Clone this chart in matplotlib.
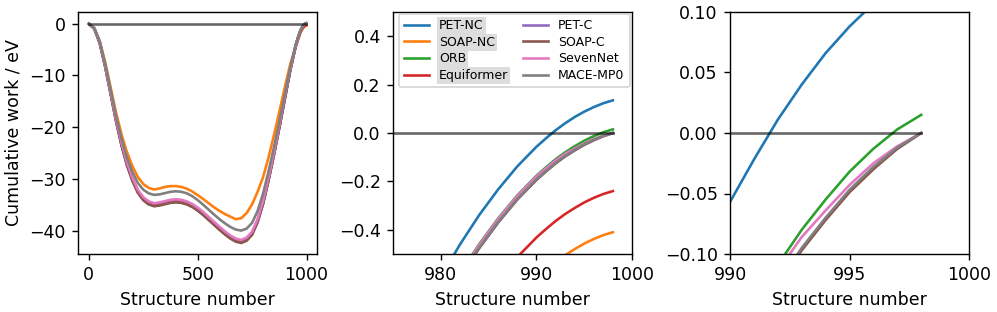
import matplotlib
matplotlib.use("Agg")
import matplotlib.pyplot as plt

# structure numbers (coarse over the whole path, fine near the end)
structure = [0, 25, 50, 75, 100, 125, 150, 175, 200, 225, 250, 275, 300, 325,
             350, 375, 400, 425, 450, 475, 500, 525, 550, 575, 600, 625, 650,
             675, 700, 725, 750, 775, 800, 825, 850, 875, 900, 925, 950,
             960, 970, 975, 980, 982, 984, 986, 988, 990, 991, 992, 993, 994,
             995, 996, 997, 998]

pet_nc = [0, -0.96, -3.73, -8.24, -13.46, -18.77, -23.39, -27.2, -30.2, -32.5,
          -33.95, -34.75, -35.1, -34.95, -34.7, -34.45, -34.35, -34.45, -34.75,
          -35.25, -35.95, -36.8, -37.75, -38.7, -39.65, -40.55, -41.35, -41.95,
          -42.2, -41.75, -40.6, -38.2, -34.7, -30.2, -25.25, -19.95, -14.45,
          -8.96, -4.15,
          -2.685, -1.465, -0.985, -0.595, -0.461, -0.340, -0.233, -0.138, -0.057,
          -0.022, 0.011, 0.040, 0.066, 0.088, 0.107, 0.123, 0.135]

soap_nc = [0, -0.85, -3.35, -7.45, -12.3, -17.2, -21.4, -24.85, -27.55, -29.65,
           -31.0, -31.75, -32.05, -31.85, -31.55, -31.4, -31.4, -31.55, -31.9,
           -32.45, -33.15, -33.9, -34.7, -35.5, -36.2, -36.8, -37.3, -37.8,
           -37.6, -36.6, -34.9, -32.5, -29.7, -25.9, -21.6, -17.0, -12.3, -7.8,
           -4.5,
           -3.23, -2.01, -1.53, -1.14, -1.006, -0.885, -0.778, -0.683, -0.602,
           -0.567, -0.534, -0.505, -0.480, -0.457, -0.438, -0.422, -0.41]

orb = [0, -0.95, -3.7, -8.2, -13.4, -18.7, -23.3, -27.1, -30.1, -32.4, -33.85,
       -34.65, -35.0, -34.85, -34.6, -34.35, -34.25, -34.35, -34.65, -35.15,
       -35.85, -36.7, -37.65, -38.6, -39.55, -40.45, -41.25, -41.85, -42.1,
       -41.65, -40.5, -38.1, -34.6, -30.1, -25.15, -19.85, -14.35, -8.9, -4.25,
       -2.805, -1.585, -1.105, -0.715, -0.581, -0.46, -0.353, -0.258, -0.177,
       -0.142, -0.109, -0.080, -0.055, -0.032, -0.013, 0.003, 0.015]

equiformer = [0, -0.94, -3.68, -8.16, -13.35, -18.63, -23.22, -27.0, -30.0,
              -32.3, -33.75, -34.55, -34.9, -34.75, -34.5, -34.25, -34.15, -34.25,
              -34.55, -35.05, -35.75, -36.6, -37.55, -38.5, -39.45, -40.35,
              -41.15, -41.75, -42.0, -41.55, -40.4, -38.0, -34.5, -30.0, -25.05,
              -19.75, -14.25, -8.95, -4.4,
              -3.06, -1.84, -1.36, -0.97, -0.836, -0.715, -0.608, -0.513, -0.432,
              -0.397, -0.364, -0.335, -0.310, -0.287, -0.268, -0.252, -0.24]

pet_c = [0, -0.97, -3.75, -8.28, -13.51, -18.84, -23.47, -27.3, -30.3, -32.6,
         -34.05, -34.85, -35.2, -35.05, -34.8, -34.55, -34.45, -34.55, -34.85,
         -35.35, -36.05, -36.9, -37.85, -38.8, -39.75, -40.65, -41.45, -42.05,
         -42.3, -41.85, -40.7, -38.3, -34.8, -30.3, -25.35, -20.05, -14.55,
         -9.02, -4.31,
         -2.821, -1.601, -1.121, -0.731, -0.597, -0.476, -0.369, -0.274, -0.193,
         -0.158, -0.125, -0.096, -0.071, -0.048, -0.029, -0.013, 0.0]

soap_c = [0, -0.98, -3.78, -8.32, -13.57, -18.91, -23.56, -27.4, -30.4, -32.7,
          -34.15, -34.95, -35.3, -35.15, -34.9, -34.65, -34.55, -34.65, -34.95,
          -35.45, -36.15, -37.0, -37.95, -38.9, -39.85, -40.75, -41.55, -42.15,
          -42.4, -41.95, -40.8, -38.4, -34.9, -30.4, -25.45, -20.15, -14.65,
          -9.08, -4.34,
          -2.822, -1.602, -1.122, -0.732, -0.598, -0.477, -0.370, -0.275, -0.194,
          -0.159, -0.126, -0.097, -0.072, -0.049, -0.030, -0.013, 0.0]

sevennet = [0, -0.92, -3.63, -8.08, -13.24, -18.5, -23.05, -26.8, -29.8, -32.1,
            -33.55, -34.35, -34.7, -34.55, -34.3, -34.05, -33.95, -34.05,
            -34.35, -34.85, -35.55, -36.4, -37.35, -38.3, -39.25, -40.15,
            -40.95, -41.55, -41.8, -41.35, -40.2, -37.8, -34.3, -29.8, -24.85,
            -19.55, -14.05, -8.72, -4.16,
            -2.805, -1.59, -1.108, -0.718, -0.584, -0.463, -0.356, -0.261,
            -0.180, -0.146, -0.114, -0.086, -0.064, -0.043, -0.025, -0.011, 0.0]

mace_mp0 = [0, -0.9, -3.5, -7.8, -12.8, -17.9, -22.3, -25.9, -28.7, -30.8,
            -32.1, -32.8, -33.1, -33.0, -32.75, -32.5, -32.4, -32.5, -32.8,
            -33.35, -34.1, -35.0, -35.95, -36.9, -37.8, -38.6, -39.3, -39.8,
            -40.0, -39.6, -38.5, -36.2, -32.9, -28.6, -23.9, -18.9, -13.7, -8.5,
            -4.05,
            -2.82, -1.60, -1.12, -0.73, -0.596, -0.475, -0.368, -0.273, -0.192,
            -0.157, -0.124, -0.095, -0.070, -0.047, -0.028, -0.012, 0.0]

models = ["PET-NC", "SOAP-NC", "ORB", "Equiformer",
          "PET-C", "SOAP-C", "SevenNet", "MACE-MP0"]
works = [pet_nc, soap_nc, orb, equiformer, pet_c, soap_c, sevennet, mace_mp0]
non_conservative = ["PET-NC", "SOAP-NC", "ORB", "Equiformer"]

fig, axes = plt.subplots(1, 3, figsize=(9.97 / 1.25, 3.12 / 1.25), dpi=125)

for ax in axes:
    for name, w in zip(models, works):
        ax.plot(structure, w, label=name)
    ax.plot([structure[0], structure[-1]], [0, 0], color="k", alpha=0.6)
    ax.set_xlabel("Structure number")

axes[0].set_ylabel("Cumulative work / eV")

axes[1].set_xlim(975, 1000)
axes[1].set_ylim(-0.5, 0.5)
axes[1].set_xticks([980, 990, 1000])

axes[2].set_xlim(990, 1000)
axes[2].set_ylim(-0.1, 0.1)
axes[2].set_xticks([990, 995, 1000])

leg = axes[1].legend(ncol=2, fontsize=7.2, labelspacing=0.3,
                     loc="upper left", bbox_to_anchor=(0.025, 0.992),
                     borderaxespad=0, columnspacing=1.2)
for txt in leg.get_texts():
    if txt.get_text() in non_conservative:
        txt.set_bbox(dict(facecolor="#dddddd", edgecolor="none", pad=1.2))

W, H = 997, 312
for ax, left in zip(axes, [78, 393, 730]):
    ax.set_position([left / W, (H - 254) / H, 239 / W, 242 / H])

fig.savefig("out.png", dpi=125)
